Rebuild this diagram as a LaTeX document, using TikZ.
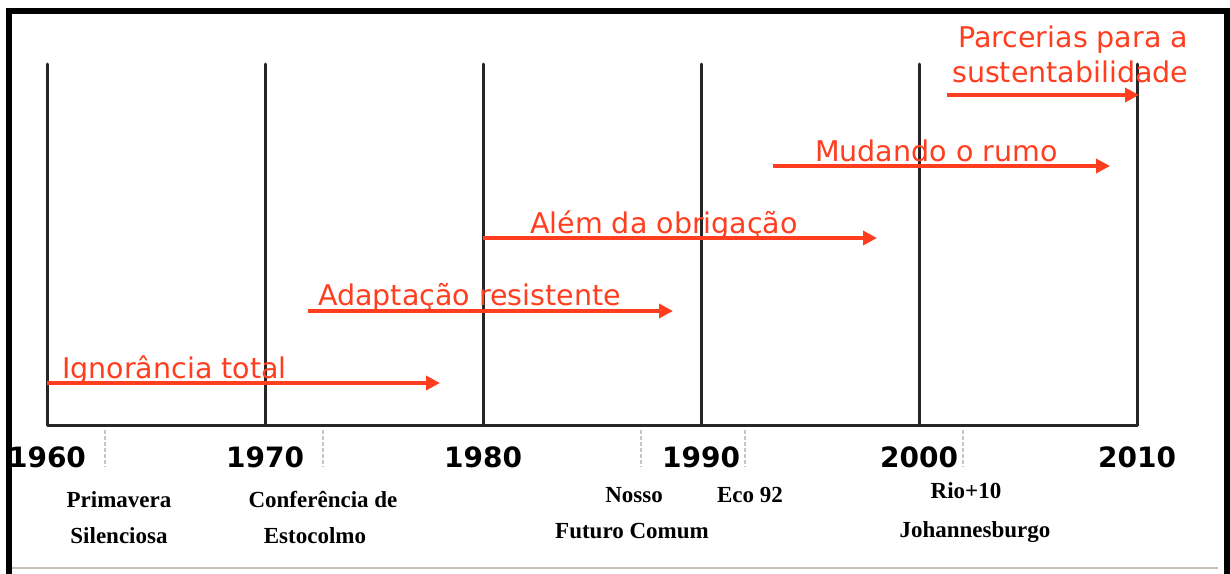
\documentclass[tikz,border=0pt]{standalone}
\usepackage{fontspec}
\setmainfont{Liberation Serif}
\newfontfamily\phasefont{DejaVu Sans}
\usetikzlibrary{arrows.meta}
\definecolor{phasered}{HTML}{FF3D1F}
\definecolor{rulegray}{HTML}{C9C1B8}

\begin{document}
\begin{tikzpicture}[x=1pt, y=-1pt,
        decade/.style={line width=3pt, black!85, line cap=round, line join=round},
        tickmark/.style={dashed, dash pattern=on 4pt off 2pt, gray!45, line width=1.5pt},
        phase/.style={line width=3.5pt, phasered, -{Triangle[length=14pt, width=14pt]}},
        phasetext/.style={text=phasered, font=\phasefont\fontsize{28.5}{32}\selectfont, inner sep=0pt, anchor=base west},
        year/.style={font=\phasefont\bfseries\fontsize{28}{30}\selectfont, inner sep=0pt},
        event/.style={font=\bfseries\fontsize{23}{26}\selectfont, inner sep=0pt, anchor=base}]
        % Sizes
        \pgfmathsetmacro{\xzero}{47}
        \pgfmathsetmacro{\gap}{218}
        \pgfmathsetmacro{\ytop}{64}
        \pgfmathsetmacro{\ybase}{425}
        \useasboundingbox (0,0) rectangle (1230,573);

        % frame
        \draw[line width=6pt] (9,576) -- (9,11) -- (1227,11) -- (1227,576);
        \draw[rulegray, line width=1.5pt] (12,568) -- (1218,568);

        % vertices
        \foreach \i/\yr in {0/1960,1/1970,2/1980,3/1990,4/2000,5/2010} {
            \coordinate (top\yr) at (\xzero+\i*\gap, \ytop);
            \coordinate (bot\yr) at (\xzero+\i*\gap, \ybase);
            \node[year] (lab\yr) at (\xzero+\i*\gap, 457) {\yr};
        }
        \foreach \n/\x in {a/105,b/323,c/641,d/745,e/963} {
            \coordinate (tick\n1) at (\x, 430);
            \coordinate (tick\n2) at (\x, 467);
        }
        \coordinate (ign-s) at (47, 383);
        \coordinate (ign-e) at (440, 383);
        \coordinate (ada-s) at (308, 311);
        \coordinate (ada-e) at (673, 311);
        \coordinate (alem-s) at (483, 238);
        \coordinate (alem-e) at (877, 238);
        \coordinate (mud-s) at (773, 166);
        \coordinate (mud-e) at (1110, 166);
        \coordinate (parc-s) at (947, 95);
        \coordinate (parc-e) at (1139, 95);

        % draw diagram
        \draw[decade] (top1960) -- (bot1960) -- (bot2010) -- (top2010);
        \foreach \yr in {1970,1980,1990,2000} {
            \draw[decade] (top\yr) -- (bot\yr);
        }
        \foreach \n in {a,b,c,d,e} {
            \draw[tickmark] (tick\n1) -- (tick\n2);
        }
        \draw[phase] (ign-s) -- (ign-e);
        \draw[phase] (ada-s) -- (ada-e);
        \draw[phase] (alem-s) -- (alem-e);
        \draw[phase] (mud-s) -- (mud-e);
        \draw[phase] (parc-s) -- (parc-e);

        % labels
        \node[phasetext] (ign) at (62, 378) {Ignorância total};
        \node[phasetext] (ada) at (318, 305) {Adaptação resistente};
        \node[phasetext] (alem) at (530, 233) {Além da obrigação};
        \node[phasetext] (mud) at (815, 161) {Mudando o rumo};
        \node[phasetext] (parc1) at (958, 47) {Parcerias para a};
        \node[phasetext] (parc2) at (952, 82) {sustentabilidade};

        \node[event] (primavera) at (119, 507) {Primavera};
        \node[event] (silenciosa) at (119, 543) {Silenciosa};
        \node[event] (conferencia) at (323, 507) {Conferência de};
        \node[event] (estocolmo) at (315, 543) {Estocolmo};
        \node[event] (nosso) at (634, 502) {Nosso};
        \node[event] (futuro) at (632, 538) {Futuro Comum};
        \node[event] (eco) at (750, 502) {Eco 92};
        \node[event] (rio) at (966, 498) {Rio+10};
        \node[event] (joburg) at (975, 537) {Johannesburgo};
\end{tikzpicture}
\end{document}
